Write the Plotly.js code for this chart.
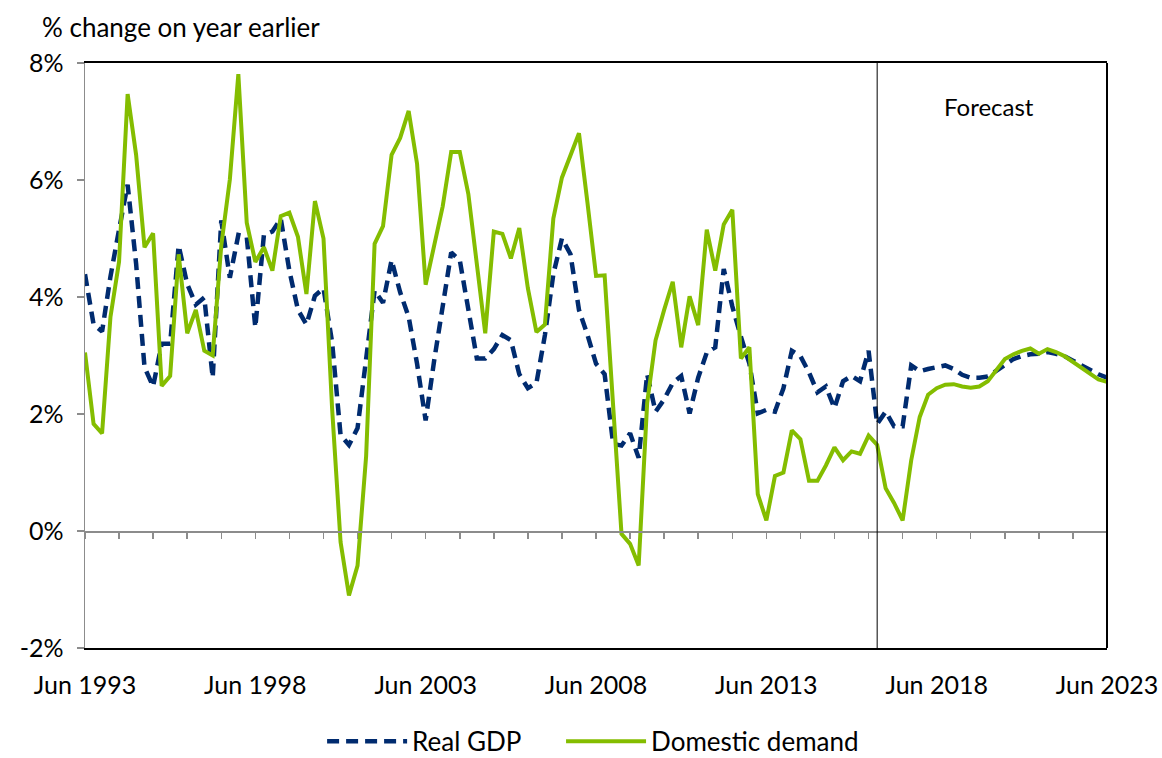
<!DOCTYPE html>
<html>
<head>
<meta charset="utf-8">
<script src="https://cdn.plot.ly/plotly-3.0.1.min.js"></script>
<style>html,body{margin:0;padding:0;background:#fff;}#chart{width:1162px;height:758px;}</style>
</head>
<body>
<div id="chart"></div>
<script>
// Quarterly observations, Jun 1993 to Jun 2023 (121 quarters)
const startYear = 1993;
const startMonth = 6;
const quarterCount = 121;
const forecastStart = "2016-09-01";

const realGDP = [
  4.39, 3.53, 3.41, 4.35, 5.15, 5.92, 4.57, 2.80, 2.47, 3.20,
  3.20, 4.88, 4.22, 3.87, 3.99, 2.62, 5.31, 4.33, 5.06, 5.03,
  3.48, 5.06, 5.12, 5.34, 4.45, 3.78, 3.53, 4.02, 4.15, 3.23,
  1.64, 1.47, 1.76, 2.99, 4.11, 3.90, 4.63, 4.08, 3.66, 2.86,
  1.89, 2.92, 3.90, 4.76, 4.63, 3.78, 2.95, 2.95, 3.11, 3.35,
  3.26, 2.68, 2.44, 2.53, 3.35, 4.39, 5.00, 4.73, 3.78, 3.35,
  2.86, 2.68, 1.49, 1.46, 1.67, 1.25, 2.68, 2.04, 2.25, 2.53,
  2.65, 2.01, 2.62, 3.05, 3.14, 4.48, 3.84, 3.32, 2.86, 2.01,
  2.07, 2.04, 2.44, 3.08, 2.99, 2.71, 2.37, 2.47, 2.10, 2.56,
  2.65, 2.56, 3.08, 1.83, 2.04, 1.79, 1.79, 2.83, 2.73, 2.77,
  2.80, 2.83, 2.77, 2.67, 2.62, 2.62, 2.64, 2.74, 2.86, 2.94,
  2.99, 3.02, 3.03, 3.06, 3.03, 2.99, 2.91, 2.83, 2.75, 2.68,
  2.62
];

const domesticDemand = [
  3.05, 1.83, 1.67, 3.66, 4.60, 7.47, 6.43, 4.85, 5.09, 2.48,
  2.65, 4.73, 3.38, 3.78, 3.08, 3.00, 4.88, 6.01, 7.81, 5.27,
  4.60, 4.85, 4.45, 5.38, 5.44, 5.03, 4.05, 5.64, 5.00, 2.10,
  -0.19, -1.10, -0.59, 1.28, 4.91, 5.21, 6.43, 6.72, 7.18, 6.28,
  4.21, 4.85, 5.55, 6.48, 6.48, 5.76, 4.57, 3.38, 5.12, 5.08,
  4.66, 5.18, 4.15, 3.40, 3.53, 5.34, 6.04, 6.40, 6.80, 5.61,
  4.36, 4.37, 2.07, -0.05, -0.22, -0.59, 2.19, 3.26, 3.78, 4.26,
  3.14, 4.01, 3.52, 5.15, 4.45, 5.24, 5.49, 2.95, 3.14, 0.63,
  0.18, 0.94, 1.00, 1.72, 1.57, 0.86, 0.86, 1.12, 1.43, 1.21,
  1.36, 1.32, 1.63, 1.47, 0.73, 0.48, 0.18, 1.21, 1.95, 2.33,
  2.44, 2.50, 2.51, 2.47, 2.45, 2.47, 2.56, 2.74, 2.94, 3.02,
  3.08, 3.12, 3.03, 3.11, 3.06, 2.99, 2.89, 2.79, 2.68, 2.59,
  2.55
];

const yTickVals = [-2, 0, 2, 4, 6, 8];
const yTickText = ["-2%", "0%", "2%", "4%", "6%", "8%"];
const seriesNames = ["Real GDP", "Domestic demand"];
const yTitle = "% change on year earlier";
const forecastLabel = "Forecast";

// quarter dates
const quarters = [];
for (let i = 0; i < quarterCount; i++) {
  const m = startYear * 12 + (startMonth - 1) + 3 * i;
  const y = Math.floor(m / 12);
  const mo = (m % 12) + 1;
  quarters.push(y + "-" + String(mo).padStart(2, "0") + "-01");
}

const FONT = "Lato, 'Open Sans', sans-serif";
const xRange = [quarters[0], quarters[quarters.length - 1]];

const traces = [
  {
    x: quarters, y: realGDP, name: seriesNames[0], type: "scatter", mode: "lines",
    line: { color: "#002B6F", width: 4.5, dash: "12px,7px" }, legend: "legend"
  },
  {
    x: quarters, y: domesticDemand, name: seriesNames[1], type: "scatter", mode: "lines",
    line: { color: "#84BD00", width: 4 }, legend: "legend2"
  }
];

const legendBase = {
  orientation: "h", xref: "paper", xanchor: "left",
  yref: "container", y: 0.022, yanchor: "middle",
  font: { family: FONT, size: 26, color: "#000" }, itemwidth: 80
};

const layout = {
  width: 1162, height: 758,
  margin: { l: 85, r: 55, t: 63, b: 110, autoexpand: false },
  paper_bgcolor: "#fff", plot_bgcolor: "#fff",
  font: { family: FONT, size: 25, color: "#000" },
  showlegend: true,
  legend: Object.assign({}, legendBase, { x: 0.232 }),
  legend2: Object.assign({}, legendBase, { x: 0.4658 }),
  xaxis: {
    type: "date", range: xRange, tick0: xRange[0], dtick: "M60", tickformat: "%b %Y",
    showline: true, linecolor: "#000", linewidth: 2, mirror: true,
    ticks: "", showgrid: false, zeroline: false,
    tickfont: { family: FONT, size: 25, color: "#000" }, ticklabelstandoff: 14,
    fixedrange: true
  },
  xaxis2: {
    type: "date", overlaying: "x", anchor: "free", position: 0.2, side: "bottom",
    range: xRange, tick0: xRange[0], dtick: "M12",
    showline: true, linecolor: "#8c8c8c", linewidth: 1.5,
    ticks: "outside", ticklen: 6, tickwidth: 1.5, tickcolor: "#8c8c8c",
    showticklabels: false, showgrid: false, zeroline: false, fixedrange: true
  },
  yaxis: {
    range: [-2, 8], tickvals: yTickVals, ticktext: yTickText,
    showline: true, linecolor: "#8c8c8c", linewidth: 1.5,
    ticks: "outside", ticklen: 7, tickwidth: 1.5, tickcolor: "#8c8c8c",
    showgrid: false, zeroline: false,
    tickfont: { family: FONT, size: 25, color: "#000" }, ticklabelstandoff: 8,
    fixedrange: true
  },
  shapes: [
    { type: "line", xref: "paper", yref: "paper", x0: 1, x1: 1, y0: 0, y1: 1,
      line: { color: "#000", width: 2 } },
    { type: "line", xref: "x", yref: "paper", x0: forecastStart, x1: forecastStart, y0: 0, y1: 1,
      line: { color: "#000", width: 1 } }
  ],
  annotations: [
    { text: yTitle, xref: "paper", yref: "paper", x: -0.044, xanchor: "left",
      y: 1, yanchor: "bottom", yshift: 18, showarrow: false,
      font: { family: FONT, size: 26, color: "#000" } },
    { text: forecastLabel, xref: "paper", yref: "paper", x: 0.8845, xanchor: "center",
      y: 0.925, yanchor: "middle", showarrow: false,
      font: { family: FONT, size: 24, color: "#000" } }
  ]
};

// invisible helper trace so the zero-line axis (xaxis2) is drawn
traces.push({ x: xRange, y: [null, null], xaxis: "x2", yaxis: "y", type: "scatter",
  mode: "lines", showlegend: false, hoverinfo: "skip" });

Plotly.newPlot("chart", traces, layout, { displayModeBar: false, staticPlot: true });
</script>
</body>
</html>
